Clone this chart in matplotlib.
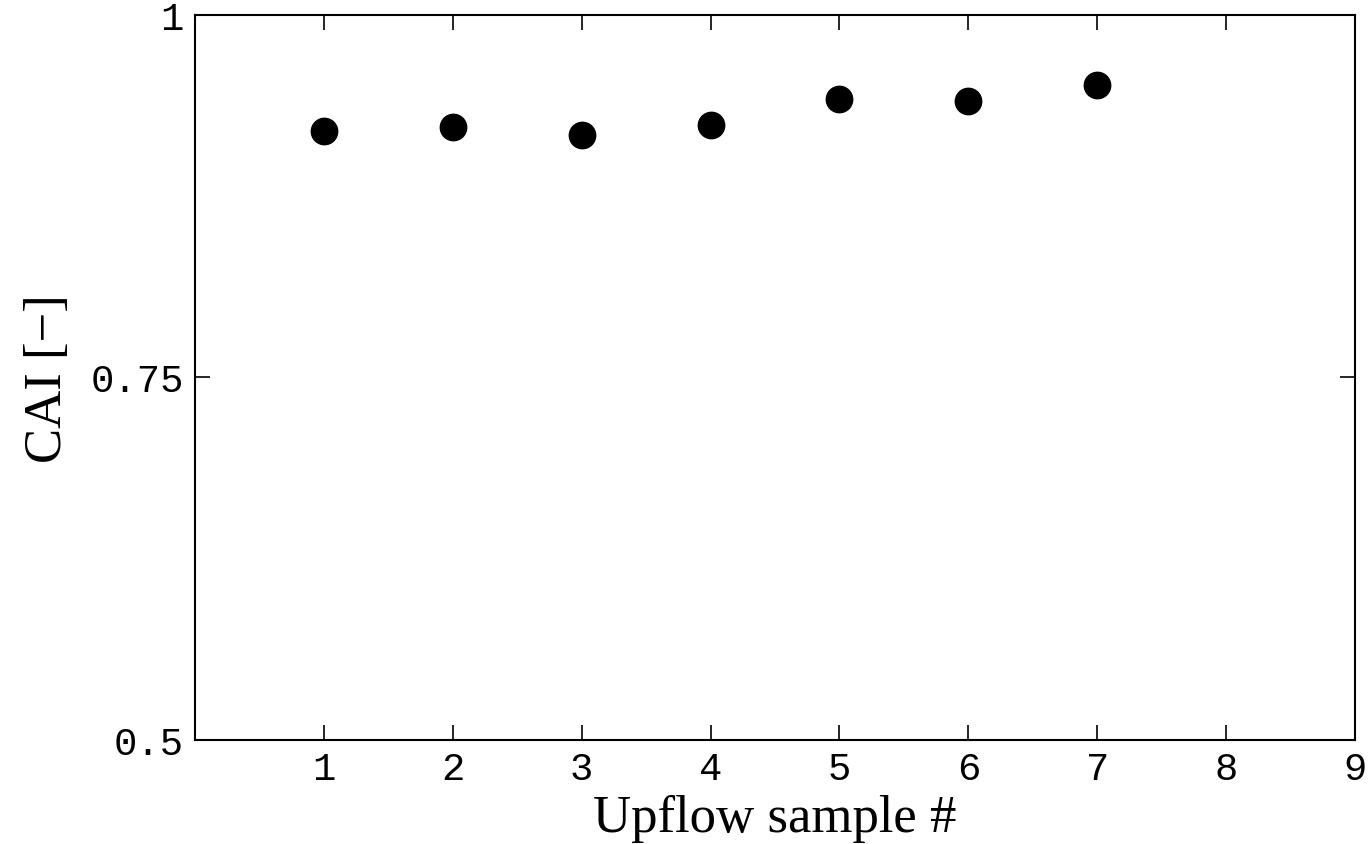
import matplotlib
matplotlib.use("Agg")
import matplotlib.pyplot as plt

# upflow samples and CAI values
samples = [1, 2, 3, 4, 5, 6, 7]
cai = [0.920, 0.923, 0.917, 0.924, 0.942, 0.941, 0.952]

x_ticks = [1, 2, 3, 4, 5, 6, 7, 8, 9]
y_ticks = [0.5, 0.75, 1.0]
y_tick_labels = ["0.5", "0.75", "1"]

fig = plt.figure(figsize=(13.69, 8.45), dpi=100)
ax = fig.add_axes([0.1424, 0.1231, 0.8474, 0.8580])

ax.plot(samples, cai, linestyle="none", marker="o", color="black", markersize=19)

ax.set(xlim=[0, 9], ylim=[0.5, 1.0])
ax.set_xticks(x_ticks)
ax.set_yticks(y_ticks)
ax.set_yticklabels(y_tick_labels)

mono = "Liberation Mono"
for lab in ax.get_xticklabels() + ax.get_yticklabels():
    lab.set_fontfamily(mono)
    lab.set_fontsize(28)

ax.tick_params(direction="in", length=11, width=1.2, top=True, right=True, pad=8)
for sp in ax.spines.values():
    sp.set_linewidth(1.5)

ax.set_xlabel("Upflow sample #", fontfamily="Liberation Serif", fontsize=38, labelpad=5)
ax.set_ylabel("CAI [\u2212]", fontfamily="Liberation Serif", fontsize=38, labelpad=13)

fig.savefig("out.png", dpi=100)
